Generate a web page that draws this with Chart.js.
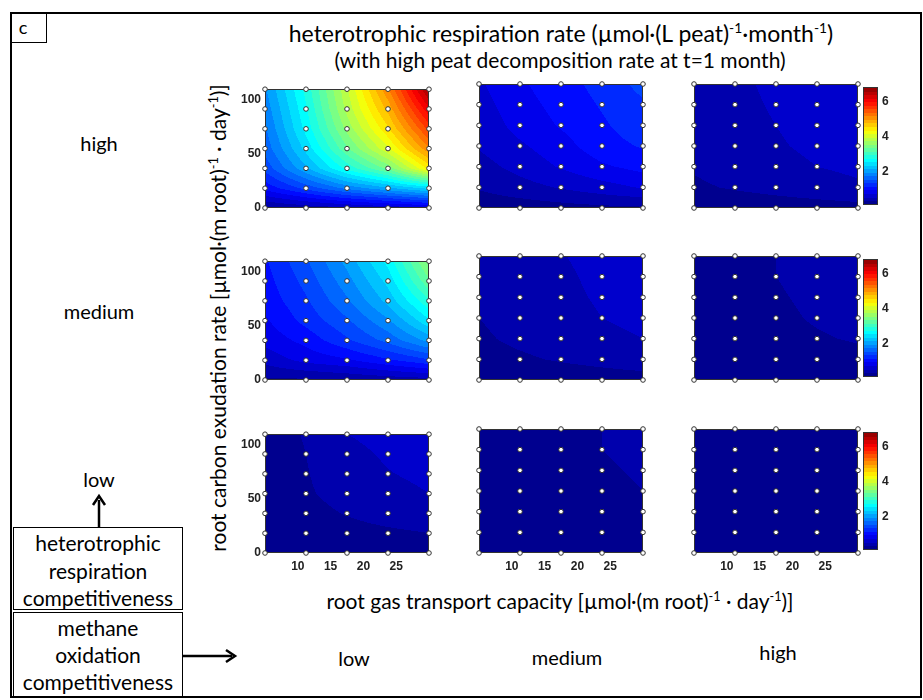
<!DOCTYPE html>
<html>
<head>
<meta charset="utf-8">
<script src="https://cdn.jsdelivr.net/npm/chart.js@4.4.0/dist/chart.umd.min.js"></script>
<style>
  body { margin: 0; background: #fff; }
  #fig { position: relative; width: 923px; height: 700px; overflow: hidden; font-family: Lato, "Open Sans", sans-serif; color: #000; }
  .t { position: absolute; white-space: nowrap; transform: translate(-50%, -50%); line-height: 1; }
  .t sup { font-size: 0.6em; vertical-align: 0.6em; line-height: 0; }
  .box { position: absolute; border: 1px solid #000; box-sizing: border-box; }
  canvas { position: absolute; }
</style>
</head>
<body>
<div id="fig">
  <div class="box" style="left:10px;top:12px;width:912px;height:686px;border-width:2px;"></div>
  <div class="box" style="left:11px;top:12px;width:36px;height:31px;"></div>
  <div class="t" style="left:23px;top:27px;font-size:18px;">c</div>

  <div class="t" style="left:561px;top:33px;font-size:23px;">heterotrophic respiration rate (µmol·(L peat)<sup>-1</sup>·month<sup>-1</sup>)</div>
  <div class="t" style="left:560px;top:59px;font-size:21px;">(with high peat decomposition rate at t=1 month)</div>

  <div class="t" style="left:560px;top:600px;font-size:21px;">root gas transport capacity [µmol·(m root)<sup>-1</sup> · day<sup>-1</sup>)]</div>
  <div class="t" style="left:217px;top:318px;font-size:21px;transform:translate(-50%,-50%) rotate(-90deg);">root carbon exudation rate [µmol·(m root)<sup>-1</sup> · day<sup>-1</sup>)]</div>

  <div class="box" style="left:13px;top:527px;width:170px;height:83px;"></div>
  <div class="t" style="left:98px;top:542px;font-size:21px;">heterotrophic</div>
  <div class="t" style="left:98px;top:570px;font-size:21px;">respiration</div>
  <div class="t" style="left:98px;top:597px;font-size:21px;">competitiveness</div>
  <div class="box" style="left:13px;top:612px;width:170px;height:86px;"></div>
  <div class="t" style="left:98px;top:627px;font-size:21px;">methane</div>
  <div class="t" style="left:98px;top:654px;font-size:21px;">oxidation</div>
  <div class="t" style="left:98px;top:681px;font-size:21px;">competitiveness</div>

  <svg style="position:absolute;left:0;top:0" width="923" height="700">
    <line x1="99" y1="527" x2="99" y2="500" stroke="#000" stroke-width="2.5"/>
    <polyline points="93,505 99,496 105,505" fill="none" stroke="#000" stroke-width="2.5"/>
    <line x1="183" y1="656" x2="232" y2="656" stroke="#000" stroke-width="2.5"/>
    <polyline points="226,650 235,656 226,662" fill="none" stroke="#000" stroke-width="2.5"/>
  </svg>
  <div id="labels"></div>
</div>
<script>
// grid of simulation points
const gasTransport = [5, 11.25, 17.5, 23.75, 30];
const exudation = [0, 18.3, 36.7, 55, 73.3, 91.7, 110];
const xTicks = [10, 15, 20, 25];
const yTicks = [0, 50, 100];
const cbTicks = [2, 4, 6];
const respLevels = ["high", "medium", "low"];      // rows
const oxidLevels = ["low", "medium", "high"];      // columns

// respiration rate, rows = exudation (bottom to top), cols = gasTransport
const highResp_lowOx = [
  [0.3, 0.4, 0.5, 0.6, 0.7],
  [1.0, 1.4, 1.8, 2.1, 2.4],
  [1.4, 2.1, 2.8, 3.4, 4.4],
  [1.6, 2.4, 3.3, 4.1, 5.1],
  [1.7, 2.6, 3.6, 4.5, 5.6],
  [1.8, 2.7, 3.8, 4.8, 6.1],
  [1.9, 2.8, 3.9, 5.1, 6.6]
];
const highResp_medOx = [
  [0.2, 0.22, 0.25, 0.28, 0.3],
  [0.35, 0.45, 0.55, 0.65, 0.75],
  [0.45, 0.6, 0.75, 0.9, 1.0],
  [0.55, 0.7, 0.85, 1.05, 1.15],
  [0.6, 0.8, 0.95, 1.1, 1.25],
  [0.65, 0.85, 1.0, 1.15, 1.3],
  [0.7, 0.9, 1.05, 1.2, 1.4]
];
const highResp_highOx = [
  [0.18, 0.2, 0.22, 0.24, 0.26],
  [0.3, 0.35, 0.4, 0.45, 0.5],
  [0.35, 0.41, 0.47, 0.53, 0.57],
  [0.37, 0.45, 0.51, 0.57, 0.61],
  [0.39, 0.47, 0.53, 0.6, 0.65],
  [0.4, 0.48, 0.55, 0.62, 0.68],
  [0.41, 0.49, 0.57, 0.65, 0.71]
];
const medResp_lowOx = [
  [0.3, 0.3, 0.35, 0.4, 0.45],
  [0.6, 0.8, 0.9, 1.1, 1.3],
  [0.8, 1.0, 1.3, 1.6, 2.0],
  [0.9, 1.2, 1.5, 1.9, 2.5],
  [1.0, 1.3, 1.7, 2.2, 2.9],
  [1.05, 1.4, 1.85, 2.4, 3.3],
  [1.1, 1.5, 2.0, 2.6, 3.6]
];
const medResp_medOx = [
  [0.18, 0.19, 0.2, 0.22, 0.24],
  [0.26, 0.3, 0.35, 0.4, 0.45],
  [0.3, 0.37, 0.43, 0.49, 0.53],
  [0.33, 0.4, 0.47, 0.53, 0.57],
  [0.35, 0.42, 0.49, 0.55, 0.61],
  [0.36, 0.43, 0.5, 0.57, 0.64],
  [0.37, 0.44, 0.52, 0.59, 0.68]
];
const medResp_highOx = [
  [0.18, 0.19, 0.2, 0.21, 0.22],
  [0.22, 0.24, 0.26, 0.28, 0.3],
  [0.24, 0.27, 0.3, 0.32, 0.34],
  [0.25, 0.28, 0.31, 0.34, 0.36],
  [0.26, 0.29, 0.32, 0.35, 0.37],
  [0.26, 0.29, 0.33, 0.36, 0.38],
  [0.26, 0.3, 0.33, 0.36, 0.39]
];
const lowResp_lowOx = [
  [0.18, 0.19, 0.2, 0.22, 0.24],
  [0.2, 0.24, 0.27, 0.3, 0.33],
  [0.22, 0.28, 0.34, 0.4, 0.44],
  [0.24, 0.31, 0.39, 0.46, 0.53],
  [0.25, 0.32, 0.43, 0.52, 0.58],
  [0.26, 0.33, 0.47, 0.56, 0.62],
  [0.27, 0.34, 0.53, 0.6, 0.66]
];
const lowResp_medOx = [
  [0.16, 0.17, 0.18, 0.19, 0.2],
  [0.19, 0.21, 0.23, 0.25, 0.27],
  [0.21, 0.24, 0.27, 0.29, 0.31],
  [0.22, 0.25, 0.28, 0.31, 0.33],
  [0.23, 0.26, 0.29, 0.32, 0.34],
  [0.23, 0.26, 0.3, 0.33, 0.35],
  [0.23, 0.27, 0.3, 0.33, 0.36]
];
const lowResp_highOx = [
  [0.16, 0.16, 0.17, 0.17, 0.18],
  [0.18, 0.19, 0.2, 0.21, 0.22],
  [0.19, 0.2, 0.21, 0.22, 0.23],
  [0.19, 0.2, 0.22, 0.23, 0.24],
  [0.2, 0.21, 0.22, 0.23, 0.24],
  [0.2, 0.21, 0.22, 0.24, 0.25],
  [0.2, 0.21, 0.23, 0.24, 0.25]
];
const panels = [
  [highResp_lowOx, highResp_medOx, highResp_highOx],
  [medResp_lowOx, medResp_medOx, medResp_highOx],
  [lowResp_lowOx, lowResp_medOx, lowResp_highOx]
];

const cMin = 0.13, cMax = 6.8, step = 0.2;
const colLeft = [265, 479, 694];
const rowTop = [84, 256, 429];
const pw = 164, ph = 124;

function jet(t) {
  t = Math.max(0, Math.min(1, t));
  const c = v => Math.round(255 * Math.max(0, Math.min(1, v)));
  return [c(1.5 - Math.abs(4 * t - 3)), c(1.5 - Math.abs(4 * t - 2)), c(1.5 - Math.abs(4 * t - 1))];
}
function bandColor(v) {
  const lv = cMin + Math.floor((v - cMin) / step) * step;
  return jet((lv + step / 2 - cMin) / (cMax - cMin));
}
function locate(arr, v) {
  let i = 0;
  while (i < arr.length - 2 && v > arr[i + 1]) i++;
  const f = (v - arr[i]) / (arr[i + 1] - arr[i]);
  return [i, Math.max(0, Math.min(1, f))];
}
function interp(grid, vx, vy) {
  const [i, fx] = locate(gasTransport, vx);
  const [j, fy] = locate(exudation, vy);
  const a = grid[j][i] * (1 - fx) + grid[j][i + 1] * fx;
  const b = grid[j + 1][i] * (1 - fx) + grid[j + 1][i + 1] * fx;
  return a * (1 - fy) + b * fy;
}

const contourFill = {
  id: "contourFill",
  beforeDatasetsDraw(chart, args, opts) {
    const { ctx, chartArea: a, scales } = chart;
    const w = Math.round(a.right - a.left), h = Math.round(a.bottom - a.top);
    const img = ctx.createImageData(w, h);
    for (let j = 0; j < h; j++) {
      for (let i = 0; i < w; i++) {
        let col;
        if (opts.grid) {
          const vx = scales.x.getValueForPixel(a.left + i + 0.5);
          const vy = scales.y.getValueForPixel(a.top + j + 0.5);
          col = bandColor(interp(opts.grid, vx, vy));
        } else {
          col = bandColor(scales.y.getValueForPixel(a.top + j + 0.5));
        }
        const k = (j * w + i) * 4;
        img.data[k] = col[0]; img.data[k + 1] = col[1]; img.data[k + 2] = col[2]; img.data[k + 3] = 255;
      }
    }
    ctx.putImageData(img, Math.round(a.left), Math.round(a.top));
    ctx.save();
    ctx.strokeStyle = "#333";
    ctx.lineWidth = 1;
    ctx.strokeRect(Math.round(a.left) + 0.5, Math.round(a.top) + 0.5, w - 1, h - 1);
    ctx.restore();
  }
};

const tickFont = { family: "Liberation Sans, Arial, sans-serif", size: 12, weight: "bold" };
const fig = document.getElementById("fig");
const points = [];
exudation.forEach(y => gasTransport.forEach(x => points.push({ x, y })));

function addCanvas(left, top, w, h) {
  const cv = document.createElement("canvas");
  cv.width = w; cv.height = h;
  cv.style.left = left + "px"; cv.style.top = top + "px";
  cv.style.width = w + "px"; cv.style.height = h + "px";
  fig.appendChild(cv);
  return cv;
}

for (let r = 0; r < 3; r++) {
  for (let c = 0; c < 3; c++) {
    const cv = addCanvas(colLeft[c] - 40, rowTop[r] - 6, 40 + pw + 6, 6 + ph + 22);
    new Chart(cv, {
      type: "scatter",
      data: {
        datasets: [{
          data: points,
          pointRadius: 2.3,
          pointBackgroundColor: "#fff",
          pointBorderColor: "#333",
          pointBorderWidth: 1,
          clip: false
        }]
      },
      options: {
        responsive: false,
        animation: false,
        events: [],
        layout: { padding: { top: 6, right: 6, left: 0, bottom: 0 } },
        plugins: { legend: { display: false }, tooltip: { enabled: false }, contourFill: { grid: panels[r][c] } },
        scales: {
          x: {
            type: "linear", min: 5, max: 30,
            afterFit(s) { s.height = 22; },
            afterBuildTicks(s) { s.ticks = xTicks.map(v => ({ value: v })); },
            grid: { display: false, drawTicks: false },
            border: { display: false },
            ticks: { display: r === 2, padding: 6, font: tickFont, color: "#222", maxRotation: 0 }
          },
          y: {
            type: "linear", min: 0, max: 110,
            afterFit(s) { s.width = 40; },
            afterBuildTicks(s) { s.ticks = yTicks.map(v => ({ value: v })); },
            grid: { display: false, drawTicks: false },
            border: { display: false },
            ticks: { display: c === 0, padding: 4, font: tickFont, color: "#222" }
          }
        }
      },
      plugins: [contourFill]
    });
  }
  // colorbar
  const cb = addCanvas(863, rowTop[r] - 8, 15 + 22, 6 + ph + 10);
  new Chart(cb, {
    type: "scatter",
    data: { datasets: [] },
    options: {
      responsive: false,
      animation: false,
      events: [],
      layout: { padding: { top: 6, right: 0, left: 0, bottom: 6 } },
      plugins: { legend: { display: false }, tooltip: { enabled: false }, contourFill: { grid: null } },
      scales: {
        x: { display: false, min: 0, max: 1 },
        y: {
          type: "linear", position: "right", min: cMin, max: cMax,
          afterFit(s) { s.width = 22; },
          afterBuildTicks(s) { s.ticks = cbTicks.map(v => ({ value: v })); },
          grid: { display: false, drawTicks: false },
          border: { display: false },
          ticks: { padding: 4, font: tickFont, color: "#222" }
        }
      }
    },
    plugins: [contourFill]
  });
}

// row and column category labels
const labels = document.getElementById("labels");
const rowLabelY = [143, 311, 479];
respLevels.forEach((name, i) => {
  const d = document.createElement("div");
  d.className = "t"; d.style.left = "99px"; d.style.top = rowLabelY[i] + "px"; d.style.fontSize = "20px";
  d.textContent = name;
  labels.appendChild(d);
});
const colLabelX = [354, 567, 778], colLabelY = [658, 657, 652];
oxidLevels.forEach((name, i) => {
  const d = document.createElement("div");
  d.className = "t"; d.style.left = colLabelX[i] + "px"; d.style.top = colLabelY[i] + "px"; d.style.fontSize = "20px";
  d.textContent = name;
  labels.appendChild(d);
});
</script>
</body>
</html>
